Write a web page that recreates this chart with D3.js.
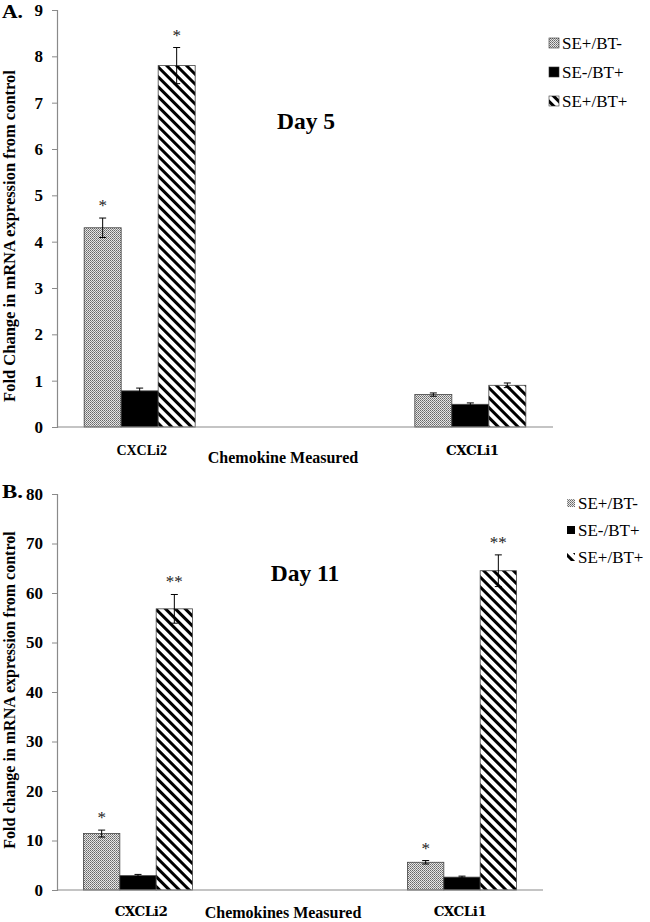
<!DOCTYPE html>
<html><head><meta charset="utf-8">
<script src="https://cdn.jsdelivr.net/npm/d3@7"></script>
<style>body{margin:0;background:#fff}svg{display:block}</style>
</head><body>
<script>
// ---- data ----
const categories = ["CXCLi2", "CXCLi1"];
const series = ["SE+/BT-", "SE-/BT+", "SE+/BT+"];
// Day 5 (panel A): rows = categories, cols = series
const day5Means  = [[4.30, 0.78, 7.80], [0.70, 0.49, 0.90]];
const day5Errors = [[0.21, 0.06, 0.39], [0.035, 0.03, 0.05]];
const day5Stars  = [["*", "", "*"], ["", "", ""]];
const day5Ticks  = [0, 1, 2, 3, 4, 5, 6, 7, 8, 9];
// Day 11 (panel B)
const day11Means  = [[11.4, 2.9, 56.8], [5.6, 2.6, 64.5]];
const day11Errors = [[0.7, 0.25, 2.9], [0.35, 0.2, 3.2]];
const day11Stars  = [["*", "", "**"], ["*", "", "**"]];
const day11Ticks  = [0, 10, 20, 30, 40, 50, 60, 70, 80];

const W = 650, H = 922;
const svg = d3.select("body").append("svg").attr("width", W).attr("height", H);
const defs = svg.append("defs");

// patterns
const dots = defs.append("pattern").attr("id", "pDots").attr("patternUnits", "userSpaceOnUse")
  .attr("width", 2).attr("height", 2);
dots.append("rect").attr("width", 2).attr("height", 2).attr("fill", "#e6e6e6");
dots.append("rect").attr("x", 0).attr("y", 0).attr("width", 1).attr("height", 1).attr("fill", "#666");
dots.append("rect").attr("x", 1).attr("y", 1).attr("width", 1).attr("height", 1).attr("fill", "#888");

const stripes = defs.append("pattern").attr("id", "pStripes").attr("patternUnits", "userSpaceOnUse")
  .attr("width", 7).attr("height", 7).attr("patternTransform", "rotate(-45)");
stripes.append("rect").attr("width", 7).attr("height", 7).attr("fill", "#fff");
stripes.append("rect").attr("x", 0).attr("width", 3).attr("height", 7).attr("fill", "#000");

const fills = { "SE+/BT-": "url(#pDots)", "SE-/BT+": "#000", "SE+/BT+": "url(#pStripes)" };
const serif = "'Liberation Serif', 'Times New Roman', serif";
const wideSerif = "'DejaVu Serif', serif";

function panel(cfg) {
  const g = svg.append("g");
  const y = d3.scaleLinear().domain([0, cfg.ymax]).range([cfg.y0, cfg.yTop]);
  const x = d3.scalePoint().domain(categories).range([cfg.x0, cfg.x1]).padding(0.25);
  const xs = d3.scaleBand().domain(series).range([-cfg.groupW / 2, cfg.groupW / 2]).padding(0);

  // y axis
  const ya = g.append("g").attr("transform", `translate(${cfg.x0},0)`)
    .call(d3.axisLeft(y).tickValues(cfg.ticks).tickSize(5).tickPadding(9));
  ya.attr("font-family", serif);
  ya.select(".domain").attr("stroke", "#8a8a8a").attr("stroke-width", 1.2);
  ya.selectAll(".tick line").attr("stroke", "#8a8a8a");
  ya.selectAll(".tick text").attr("font-family", serif).attr("font-weight", "bold")
    .attr("font-size", 17).attr("fill", "#000");

  // bars
  categories.forEach((c, ci) => {
    series.forEach((s, si) => {
      const v = cfg.means[ci][si], e = cfg.errors[ci][si];
      const bx = x(c) + xs(s);
      g.append("rect").attr("x", bx).attr("y", y(v)).attr("width", xs.bandwidth())
        .attr("height", y(0) - y(v)).attr("fill", fills[s]).attr("stroke", "#444").attr("stroke-width", 0.8);
      const cx = bx + xs.bandwidth() / 2;
      const eg = g.append("g").attr("stroke", "#000").attr("stroke-width", 1);
      eg.append("line").attr("x1", cx).attr("x2", cx).attr("y1", y(v - e)).attr("y2", y(v + e));
      eg.append("line").attr("x1", cx - 3.5).attr("x2", cx + 3.5).attr("y1", y(v + e)).attr("y2", y(v + e));
      eg.append("line").attr("x1", cx - 3.5).attr("x2", cx + 3.5).attr("y1", y(v - e)).attr("y2", y(v - e));
      const st = cfg.stars[ci][si];
      if (st) g.append("text").attr("x", cx).attr("y", y(v + e) - 7).attr("text-anchor", "middle")
        .attr("font-family", serif).attr("font-size", 17).attr("fill", "#222").text(st);
    });
  });

  // x axis line
  g.append("line").attr("x1", cfg.x0).attr("x2", cfg.x1).attr("y1", cfg.y0).attr("y2", cfg.y0)
    .attr("stroke", "#8a8a8a").attr("stroke-width", 1.2);

  // category labels
  categories.forEach((c, ci) => {
    const wide = cfg.wideLabels[ci];
    g.append("text").attr("x", x(c) + cfg.labelDx[ci]).attr("y", cfg.y0 + cfg.labelDy).attr("text-anchor", "middle")
      .attr("font-family", wide ? wideSerif : serif).attr("font-weight", "bold")
      .attr("font-size", wide ? 13.5 : 14).attr("letter-spacing", wide ? -0.5 : 0).text(c);
  });
  g.append("text").attr("x", cfg.xTitleX).attr("y", cfg.y0 + cfg.xTitleDy).attr("text-anchor", "middle")
    .attr("font-family", serif).attr("font-weight", "bold").attr("font-size", 16).text(cfg.xTitle);

  // y title
  g.append("text").attr("transform", `translate(15,${cfg.yTitleY}) rotate(-90)`).attr("text-anchor", "middle")
    .attr("font-family", serif).attr("font-weight", "bold").attr("font-size", cfg.yTitleSize).text(cfg.yTitle);

  // panel letter
  g.append("text").attr("x", 2).attr("y", cfg.letterY).attr("font-family", serif).attr("font-weight", "bold")
    .attr("font-size", 19).attr("textLength", 21).attr("lengthAdjust", "spacingAndGlyphs").text(cfg.letter);

  // day label
  g.append("text").attr("x", cfg.dayX).attr("y", cfg.dayY).attr("text-anchor", "middle")
    .attr("font-family", serif).attr("font-weight", "bold").attr("font-size", 23.5).text(cfg.day);

  // legend
  series.forEach((s, si) => {
    const ly = cfg.legY + si * cfg.legDy;
    g.append("rect").attr("x", cfg.legX).attr("y", ly - cfg.legBox / 2).attr("width", cfg.legBox).attr("height", cfg.legBox)
      .attr("fill", fills[s]).attr("stroke", cfg.legStroke ? "#333" : "none").attr("stroke-width", 0.6);
    g.append("text").attr("x", cfg.legX + cfg.legBox + 3).attr("y", ly + 6).attr("font-family", serif)
      .attr("font-size", 17).text(s);
  });
}

panel({ means: day5Means, errors: day5Errors, stars: day5Stars, ticks: day5Ticks, ymax: 9,
  x0: 57, x1: 553, y0: 427, yTop: 10, groupW: 111, wideLabels: [false, true], labelDx: [2, 2], labelDy: 28,
  xTitle: "Chemokine Measured", xTitleX: 283, xTitleDy: 36,
  yTitle: "Fold Change in mRNA expression from control", yTitleY: 236, yTitleSize: 16.5,
  letter: "A.", letterY: 18, day: "Day 5", dayX: 306, dayY: 129,
  legX: 549, legY: 43, legDy: 29, legBox: 10, legStroke: true });

panel({ means: day11Means, errors: day11Errors, stars: day11Stars, ticks: day11Ticks, ymax: 80,
  x0: 57, x1: 543, y0: 890, yTop: 494, groupW: 109, wideLabels: [true, true], labelDx: [3, -2], labelDy: 26,
  xTitle: "Chemokines Measured", xTitleX: 283, xTitleDy: 28,
  yTitle: "Fold change in mRNA expression from control", yTitleY: 690, yTitleSize: 16,
  letter: "B.", letterY: 498, day: "Day 11", dayX: 305, dayY: 581,
  legX: 567, legY: 503, legDy: 27, legBox: 8, legStroke: false });
</script>
</body></html>
